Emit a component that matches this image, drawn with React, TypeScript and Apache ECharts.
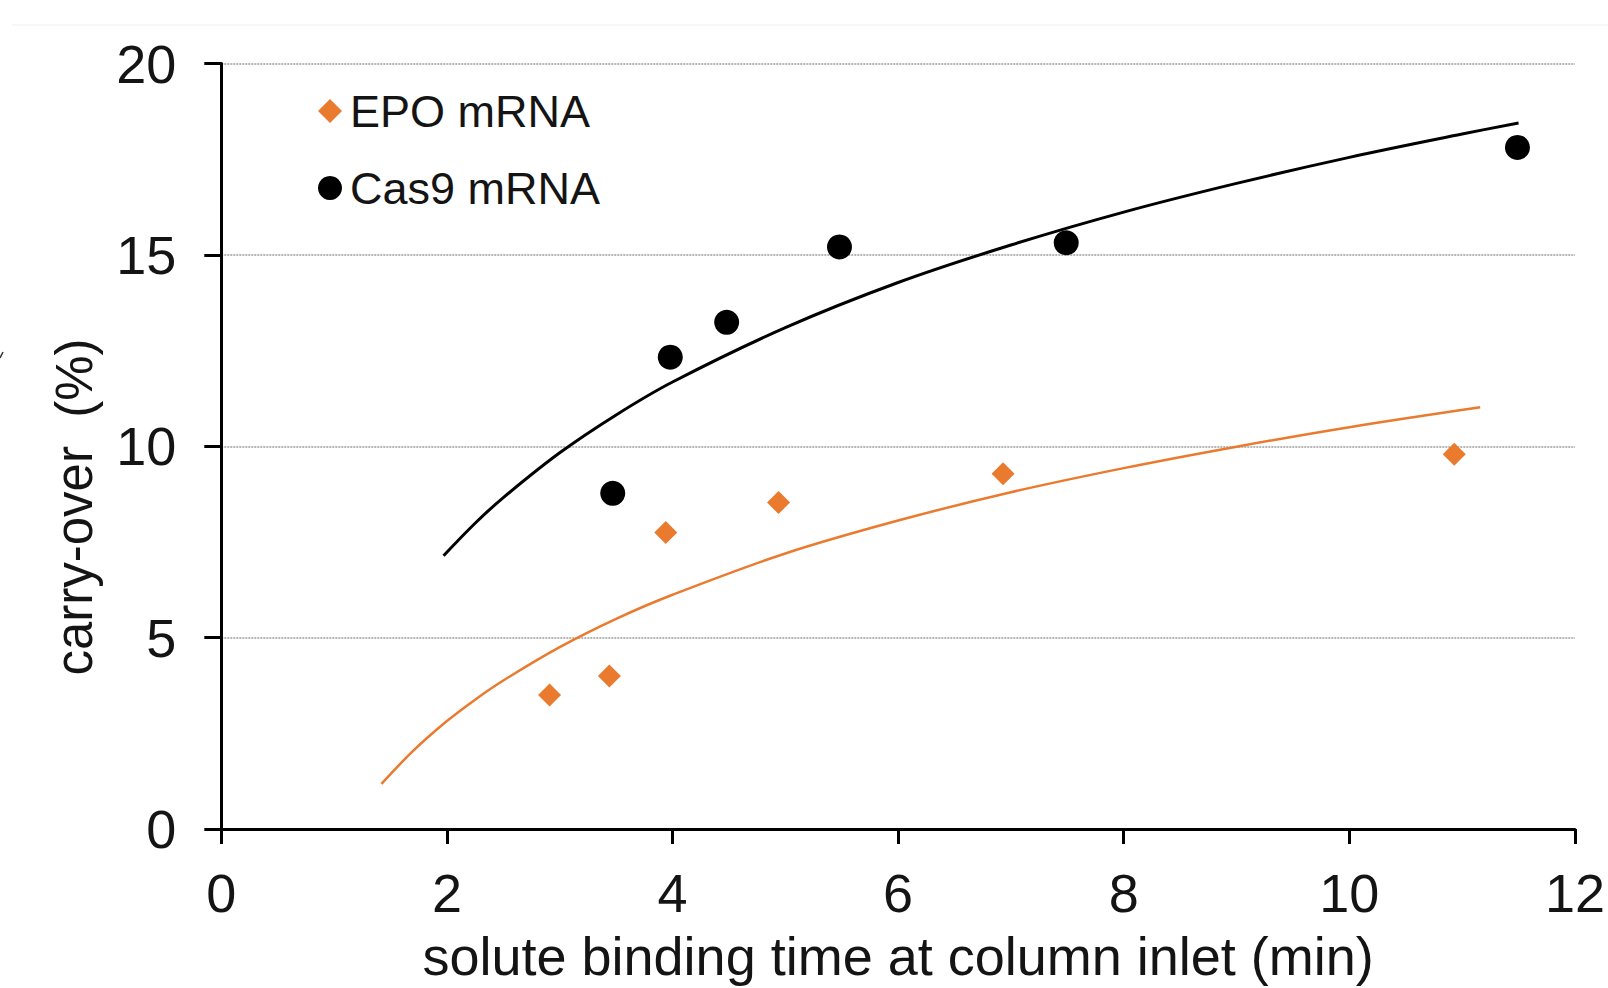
import React, { useEffect, useRef } from "react";
import * as echarts from "echarts";

const epoName = "EPO mRNA";
const cas9Name = "Cas9 mRNA";

// measured points [binding time (min), carry-over (%)]
const epoPoints: number[][] = [
  [2.91, 3.5],
  [3.44, 4.0],
  [3.94, 7.75],
  [4.94, 8.53],
  [6.93, 9.28],
  [10.93, 9.79],
];
const cas9Points: number[][] = [
  [3.47, 8.77],
  [3.98, 12.33],
  [4.48, 13.24],
  [5.48, 15.21],
  [7.49, 15.32],
  [11.49, 17.81],
];

// trend curves
const epoTrend: number[][] = [
  [1.42, 1.18], [1.7, 2.04], [2, 2.82], [2.25, 3.38], [2.5, 3.88], [3, 4.75],
  [3.5, 5.49], [4, 6.12], [5, 7.2], [6, 8.06], [7, 8.8], [8, 9.43],
  [9, 9.99], [10, 10.5], [11.16, 11.02],
];
const cas9Trend: number[][] = [
  [1.97, 7.14], [2.25, 7.99], [2.5, 8.66], [3, 9.83], [3.5, 10.82], [4, 11.68],
  [5, 13.1], [6, 14.28], [7, 15.26], [8, 16.12], [9, 16.87], [10, 17.55],
  [11, 18.16], [11.5, 18.45],
];

const xTicks = { min: 0, max: 12, interval: 2 };
const yTicks = { min: 0, max: 20, interval: 5 };

const xTitle = "solute binding time at column inlet (min)";
const yTitle = "carry-over  (%)";

const ORANGE = "#EA7A2E";
const FONT = "Liberation Sans, Arial, sans-serif";
const TEXT = "#141414";

export default function App() {
  const ref = useRef<HTMLDivElement>(null);
  useEffect(() => {
    document.body.style.margin = "0";
    const chart = echarts.init(ref.current!, null, { renderer: "svg" });
    chart.setOption({
      animation: false,
      backgroundColor: "#ffffff",
      grid: { left: 221.3, right: 30.3, top: 63.6, bottom: 157.3, containLabel: false },
      legend: {
        orient: "vertical",
        left: 313,
        top: 83,
        itemWidth: 24,
        itemHeight: 24,
        itemGap: 31,
        data: [
          { name: epoName, icon: "diamond", itemStyle: { color: ORANGE, opacity: 1 } },
          { name: cas9Name, icon: "circle", itemStyle: { color: "#000", opacity: 1 } },
        ],
        textStyle: { fontFamily: FONT, fontSize: 45, color: TEXT, lineHeight: 46, padding: [0, 0, 0, 3] },
      },
      xAxis: {
        type: "value",
        min: xTicks.min,
        max: xTicks.max,
        interval: xTicks.interval,
        name: xTitle,
        nameLocation: "middle",
        nameGap: 100,
        nameTextStyle: { fontFamily: FONT, fontSize: 54, color: TEXT },
        axisLine: { show: true, onZero: false, lineStyle: { color: "#000", width: 3 } },
        axisTick: { show: true, inside: false, length: 15, lineStyle: { color: "#000", width: 3 } },
        axisLabel: { fontFamily: FONT, fontSize: 54, color: TEXT, margin: 37 },
        splitLine: { show: false },
      },
      yAxis: {
        type: "value",
        min: yTicks.min,
        max: yTicks.max,
        interval: yTicks.interval,
        axisLine: { show: true, onZero: false, lineStyle: { color: "#000", width: 3 } },
        axisTick: { show: true, inside: false, length: 17, lineStyle: { color: "#000", width: 3 } },
        axisLabel: { fontFamily: FONT, fontSize: 54, color: TEXT, margin: 45 },
        splitLine: { show: true, lineStyle: { color: "#b5b5b5", width: 2, type: [2, 1] } },
      },
      graphic: [
        {
          type: "text",
          x: 74,
          y: 507,
          rotation: Math.PI / 2,
          style: {
            text: yTitle,
            fontFamily: FONT,
            fontSize: 51,
            fill: TEXT,
            align: "center",
            verticalAlign: "middle",
          },
        },
        {
          type: "line",
          shape: { x1: 12, y1: 25, x2: 1608, y2: 25 },
          style: { stroke: "#f0f0f0", lineWidth: 1 },
        },
        {
          type: "line",
          shape: { x1: 0, y1: 358, x2: 3, y2: 352 },
          style: { stroke: "#333", lineWidth: 1.5 },
        },
      ],
      series: [
        {
          name: epoName + " trend",
          type: "line",
          data: epoTrend,
          smooth: 0.35,
          showSymbol: false,
          silent: true,
          lineStyle: { color: ORANGE, width: 2.5 },
          z: 2,
        },
        {
          name: cas9Name + " trend",
          type: "line",
          data: cas9Trend,
          smooth: 0.35,
          showSymbol: false,
          silent: true,
          lineStyle: { color: "#000", width: 3 },
          z: 2,
        },
        {
          name: epoName,
          type: "scatter",
          symbol: "diamond",
          symbolSize: 23,
          data: epoPoints,
          itemStyle: { color: ORANGE, opacity: 1 },
          z: 3,
        },
        {
          name: cas9Name,
          type: "scatter",
          symbol: "circle",
          symbolSize: 25,
          data: cas9Points,
          itemStyle: { color: "#000", opacity: 1 },
          z: 3,
        },
      ],
    });
    return () => chart.dispose();
  }, []);
  return (
    <div
      ref={ref}
      style={{ position: "absolute", left: 0, top: 0, width: 1608, height: 988 }}
    />
  );
}
